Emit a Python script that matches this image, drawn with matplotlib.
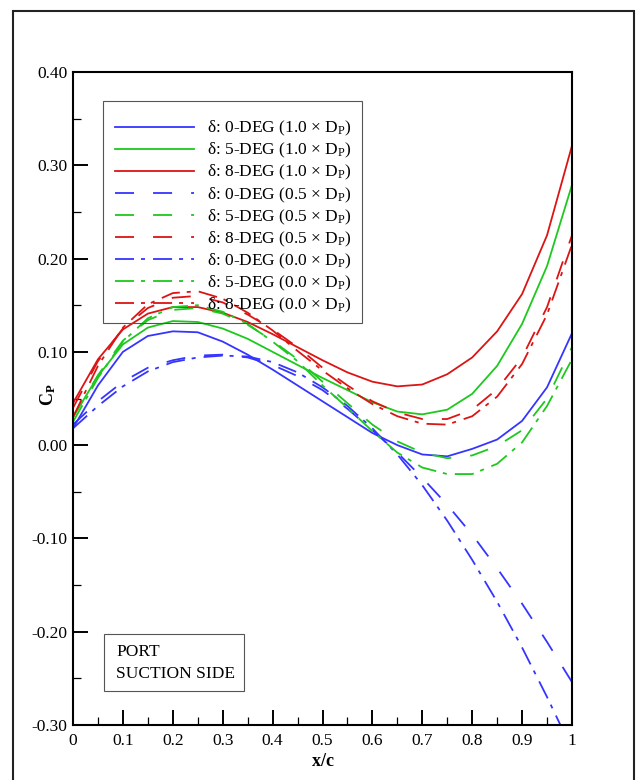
import matplotlib
matplotlib.use("Agg")
import matplotlib.pyplot as plt
from matplotlib.patches import Rectangle

plt.rcParams['font.family'] = ['Liberation Serif', 'DejaVu Serif']
plt.rcParams['mathtext.fontset'] = 'custom'
plt.rcParams['mathtext.rm'] = 'Liberation Serif'
plt.rcParams['mathtext.it'] = 'Liberation Serif:italic'
plt.rcParams['mathtext.bf'] = 'Liberation Serif:bold'
plt.rcParams['lines.scale_dashes'] = False

# chordwise stations
x_c = [0.00, 0.05, 0.10, 0.15, 0.20, 0.25, 0.30, 0.35, 0.40, 0.45, 0.50,
       0.55, 0.60, 0.65, 0.70, 0.75, 0.80, 0.85, 0.90, 0.95, 1.00]

# Cp on the port suction side, rudder angle / propeller offset
cp_0deg_10 = [0.018, 0.064, 0.100, 0.117, 0.122, 0.121, 0.111, 0.097, 0.081, 0.064, 0.047,
              0.030, 0.013, 0.000, -0.010, -0.012, -0.004, 0.006, 0.026, 0.062, 0.120]
cp_5deg_10 = [0.030, 0.074, 0.108, 0.126, 0.133, 0.132, 0.125, 0.114, 0.100, 0.086, 0.072,
              0.059, 0.046, 0.036, 0.033, 0.038, 0.055, 0.085, 0.130, 0.192, 0.279]
cp_8deg_10 = [0.045, 0.092, 0.124, 0.141, 0.148, 0.148, 0.142, 0.132, 0.119, 0.105, 0.091,
              0.078, 0.068, 0.063, 0.065, 0.076, 0.094, 0.122, 0.162, 0.225, 0.321]
cp_0deg_05 = [0.022, 0.047, 0.068, 0.083, 0.091, 0.096, 0.097, 0.094, 0.086, 0.074, 0.059,
              0.039, 0.016, -0.008, -0.035, -0.064, -0.096, -0.132, -0.170, -0.211, -0.254]
cp_5deg_05 = [0.030, 0.075, 0.112, 0.134, 0.145, 0.147, 0.141, 0.129, 0.112, 0.092, 0.068,
              0.045, 0.022, 0.004, -0.008, -0.014, -0.011, -0.001, 0.016, 0.050, 0.105]
cp_8deg_05 = [0.040, 0.090, 0.125, 0.147, 0.158, 0.160, 0.153, 0.140, 0.124, 0.105, 0.083,
              0.064, 0.047, 0.035, 0.028, 0.028, 0.038, 0.060, 0.094, 0.148, 0.225]
cp_0deg_00 = [0.018, 0.042, 0.063, 0.079, 0.089, 0.094, 0.096, 0.095, 0.089, 0.078, 0.062,
              0.042, 0.018, -0.010, -0.043, -0.081, -0.123, -0.168, -0.217, -0.270, -0.326]
cp_5deg_00 = [0.025, 0.072, 0.111, 0.136, 0.148, 0.150, 0.143, 0.130, 0.111, 0.090, 0.064,
              0.040, 0.015, -0.008, -0.024, -0.031, -0.031, -0.020, 0.003, 0.042, 0.092]
cp_8deg_00 = [0.030, 0.085, 0.126, 0.151, 0.163, 0.165, 0.157, 0.142, 0.123, 0.101, 0.080,
              0.061, 0.044, 0.031, 0.023, 0.022, 0.031, 0.052, 0.087, 0.140, 0.215]

blue = '#3535ff'
green = '#1ec81e'
red = '#dc1414'
solid = '-'
dashed = (0, (13.7, 13.7))
dashdot = (0, (13.7, 5.0, 2.9, 5.8))

series = [
    (cp_0deg_10, blue, solid, u"\u03b4: 0-DEG (1.0 \u00d7 D$_\\mathrm{P}$)"),
    (cp_5deg_10, green, solid, u"\u03b4: 5-DEG (1.0 \u00d7 D$_\\mathrm{P}$)"),
    (cp_8deg_10, red, solid, u"\u03b4: 8-DEG (1.0 \u00d7 D$_\\mathrm{P}$)"),
    (cp_0deg_05, blue, dashed, u"\u03b4: 0-DEG (0.5 \u00d7 D$_\\mathrm{P}$)"),
    (cp_5deg_05, green, dashed, u"\u03b4: 5-DEG (0.5 \u00d7 D$_\\mathrm{P}$)"),
    (cp_8deg_05, red, dashed, u"\u03b4: 8-DEG (0.5 \u00d7 D$_\\mathrm{P}$)"),
    (cp_0deg_00, blue, dashdot, u"\u03b4: 0-DEG (0.0 \u00d7 D$_\\mathrm{P}$)"),
    (cp_5deg_00, green, dashdot, u"\u03b4: 5-DEG (0.0 \u00d7 D$_\\mathrm{P}$)"),
    (cp_8deg_00, red, dashdot, u"\u03b4: 8-DEG (0.0 \u00d7 D$_\\mathrm{P}$)"),
]

W, H = 637, 780
fig = plt.figure(figsize=(W / 100, H / 100), dpi=100)
ax = fig.add_axes([73 / W, 1 - 725 / H, 499 / W, 653 / H])

for cp, col, ls, lab in series:
    ax.plot(x_c, cp, color=col, linestyle=ls, linewidth=1.3, label=lab)

ax.set_xlim(0, 1)
ax.set_ylim(-0.30, 0.40)
ax.set_xticks([i / 10 for i in range(11)])
ax.set_xticklabels(['0', '0.1', '0.2', '0.3', '0.4', '0.5', '0.6', '0.7', '0.8', '0.9', '1'])
ax.set_xticks([0.05 + i / 10 for i in range(10)], minor=True)
ax.set_yticks([-0.3 + i / 10 for i in range(8)])
ax.set_yticklabels(['%.2f' % (-0.3 + i / 10) for i in range(8)])
ax.set_yticks([-0.25 + i / 10 for i in range(7)], minor=True)
ax.tick_params(which='both', direction='in', top=False, right=False, labelsize=12.5, width=1.4)
ax.tick_params(which='major', length=11)
ax.tick_params(which='minor', length=6, width=0.9)
ax.tick_params(axis='x', pad=6)
ax.tick_params(axis='y', pad=4)
for sp in ax.spines.values():
    sp.set_linewidth(1.5)

ax.set_xlabel(r'$\mathbf{x/c}$', fontsize=13)
ax.xaxis.set_label_coords(0.5, -(753 - 725) / 653)
ax.set_ylabel(r'$\mathbf{C_P}$', fontsize=13)
ax.yaxis.set_label_coords(-(73 - 58) / 499, (725 - 395) / 653)

# legend entries, frame drawn separately
leg = ax.legend(loc='center left', bbox_to_anchor=(115 / W, 1 - 217 / H),
                bbox_transform=fig.transFigure, fontsize=12.5, frameon=False,
                handlelength=4.55, handletextpad=0.75, borderpad=0,
                labelspacing=0.165, borderaxespad=0)
fig.patches.append(Rectangle((103 / W, 1 - 323 / H), 259 / W, 222 / H,
                             transform=fig.transFigure, fill=False,
                             edgecolor='#555555', linewidth=0.8))

# annotation box in the lower left corner
fig.patches.append(Rectangle((104 / W, 1 - 691 / H), 140 / W, 57 / H,
                             transform=fig.transFigure, fill=False,
                             edgecolor='#555555', linewidth=0.8))
fig.text(116 / W, 1 - 652 / H, 'PORT', fontsize=12.5, va='center')
fig.text(116 / W, 1 - 674 / H, 'SUCTION SIDE', fontsize=12.5, va='center')

# outer page frame
fig.patches.append(Rectangle((13 / W, -0.02), 621 / W, 1.02 - 11 / H,
                             transform=fig.transFigure, fill=False,
                             edgecolor='#222222', linewidth=1.5))

fig.savefig('out.png', dpi=100)
